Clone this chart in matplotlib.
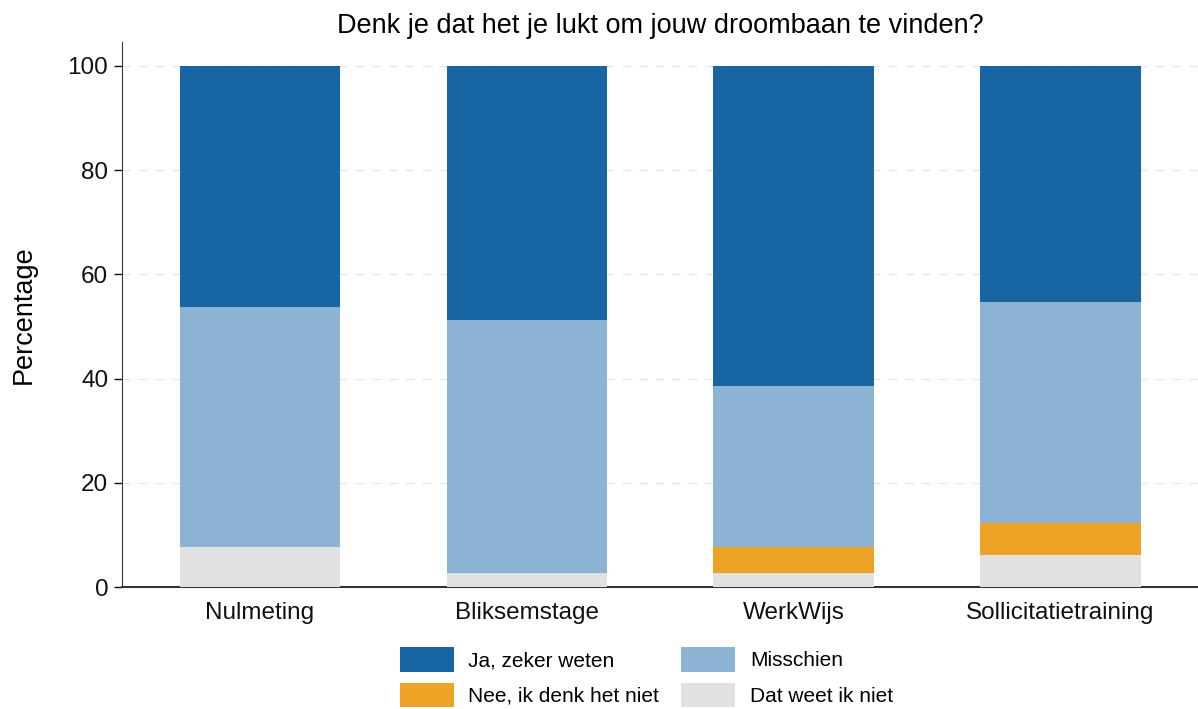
import numpy as np
import matplotlib
matplotlib.use('Agg')
import matplotlib.pyplot as plt

# ---------- data ----------
groups = ['Nulmeting', 'Bliksemstage', 'WerkWijs', 'Sollicitatietraining']
dat_weet = [7.7, 2.6, 2.6, 6.1]
nee = [0.0, 0.0, 5.1, 6.1]
misschien = [46.1, 48.7, 30.8, 42.4]
ja = [46.2, 48.7, 61.5, 45.4]

labels = ['Ja, zeker weten', 'Misschien', 'Nee, ik denk het niet', 'Dat weet ik niet']
colors = {'ja': '#1765a3', 'mis': '#8cb3d4', 'nee': '#eda326', 'dw': '#e1e1e1'}

plt.rcParams['font.family'] = ['Liberation Sans', 'DejaVu Sans']

fig, ax = plt.subplots(figsize=(11.98, 7.09), dpi=100)
fig.subplots_adjust(left=0.102, right=1.0, top=0.941, bottom=0.172)

x = np.arange(len(groups))
w = 0.6
bottom = np.zeros(len(groups))
bars = {}
for key, vals in [('dw', dat_weet), ('nee', nee), ('mis', misschien), ('ja', ja)]:
    bars[key] = ax.bar(x, vals, w, bottom=bottom, color=colors[key], zorder=3)
    bottom = bottom + np.array(vals)

ax.set_xlim(-0.515, 3.515)
ax.set_ylim(0, 104.6)
ax.set_yticks([0, 20, 40, 60, 80, 100])
ax.set_xticks(x)
ax.set_xticklabels(groups)
ax.tick_params(axis='both', labelsize=17.5, colors='#111111')
ax.tick_params(axis='x', length=0, pad=11)
ax.tick_params(axis='y', length=6, width=1, pad=4)
ax.yaxis.grid(True, linestyle=(0, (6, 6)), color='#e6e6e6', linewidth=1, zorder=0)

for s in ['top', 'right']:
    ax.spines[s].set_visible(False)
ax.spines['left'].set_color('#333333')
ax.spines['bottom'].set_color('#333333')
ax.spines['bottom'].set_linewidth(1.5)

ax.set_ylabel('Percentage', fontsize=19.5, labelpad=22)
ax.set_title('Denk je dat het je lukt om jouw droombaan te vinden?', fontsize=19.5, pad=6)

handles = [bars['ja'], bars['nee'], bars['mis'], bars['dw']]
leg_labels = [labels[0], labels[2], labels[1], labels[3]]
fig.legend(handles, leg_labels, ncol=2, loc='lower center', bbox_to_anchor=(0.5395, -0.024),
           frameon=False, fontsize=15, handlelength=2.6, handleheight=1.45,
           handletextpad=0.7, columnspacing=1.05, labelspacing=0.52)

fig.savefig('out.png', dpi=100)
